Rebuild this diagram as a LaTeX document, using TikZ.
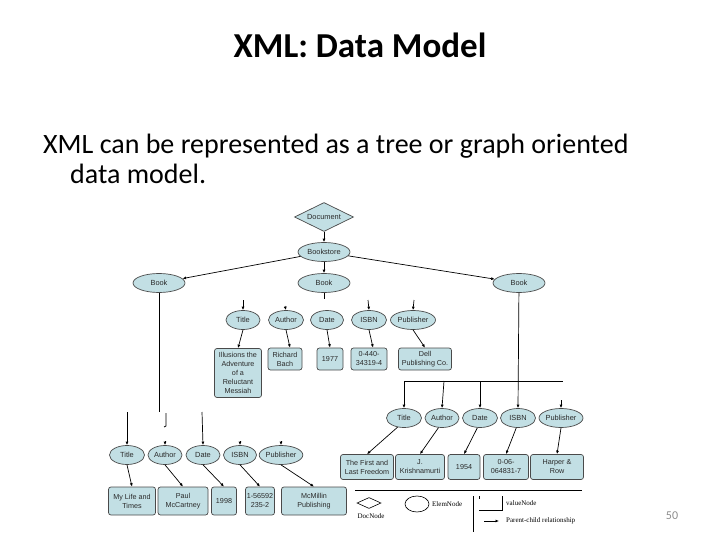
\documentclass[tikz,border=0pt]{standalone}
\usepackage{fontspec}
\setmainfont{Carlito}
\newfontfamily\nodefont{Liberation Sans}
\newfontfamily\legfont{Liberation Serif}
\usetikzlibrary{shapes.geometric,arrows.meta}
\definecolor{nodefill}{HTML}{C2DFE4}
\definecolor{nodeline}{HTML}{4A4A4A}
\definecolor{nodetext}{HTML}{2A2A2A}
\definecolor{pagegray}{HTML}{8C8C8C}
\begin{document}
\begin{tikzpicture}[x=1pt,y=-1pt,
  elem/.style={ellipse, draw=nodeline, fill=nodefill, line width=0.7pt, inner sep=0pt, text=nodetext,
    minimum height=19pt, minimum width=#1, font=\nodefont\fontsize{7.4}{8}\selectfont},
  elem/.default=34pt,
  valbox/.style={rectangle, rounded corners=2.5pt, draw=nodeline, fill=nodefill, line width=0.7pt, text=nodetext,
    inner sep=0pt, align=center, minimum width=#1, font=\nodefont\fontsize{7.2}{9}\selectfont},
  valbox/.default=34pt,
  arr/.style={-{Latex[length=3.5pt,width=3pt]}, line width=0.7pt, black},
  ln/.style={line width=0.8pt, black},
  legtext/.style={font=\legfont\fontsize{7}{8}\selectfont, inner sep=0pt}
]
\useasboundingbox (0,0) rectangle (720,540);

% ---- title and text
\node[anchor=base, inner sep=0pt, font=\bfseries\fontsize{35}{40}\selectfont] (title) at (360,58) {XML: Data Model};
\node[anchor=base west, inner sep=0pt, font=\fontsize{28}{33}\selectfont] (line1) at (43,154) {XML can be represented as a tree or graph oriented};
\node[anchor=base west, inner sep=0pt, font=\fontsize{28}{33}\selectfont] (line2) at (70,184) {data model.};

% ---- top of tree
\node[diamond, aspect=2, draw=nodeline, fill=nodefill, line width=0.7pt, inner sep=0pt, text=nodetext,
  minimum width=59pt, minimum height=29pt, font=\nodefont\fontsize{7.4}{8}\selectfont] (doc) at (324,217) {Document};
\node[elem=52pt] (bs) at (324,252) {Bookstore};
\node[elem=52pt] (bookL) at (159,283) {Book};
\node[elem=52pt] (bookM) at (324,283) {Book};
\node[elem=52pt] (bookR) at (519,283) {Book};

\draw[arr] (doc) -- (bs);
\draw[arr] (bs) -- (bookL);
\draw[arr] (bs) -- (bookM);
\draw[arr] (bs) -- (bookR);

% ---- middle book children
\node[elem=34pt] (t2) at (243,320) {Title};
\node[elem=35pt] (a2) at (286,320) {Author};
\node[elem=33pt] (d2) at (327,320) {Date};
\node[elem=35pt] (i2) at (369,320) {ISBN};
\node[elem=45pt] (p2) at (413,320) {Publisher};

\coordinate (mstub) at (324,299);
\draw[ln] (bookM) -- (mstub);
\coordinate (st2) at (243,300);
\coordinate (sa2) at (285,306);
\coordinate (si2) at (368,300);
\coordinate (sp2) at (414,300);
\draw[arr] (st2) -- (t2.north);
\draw[arr] (sa2) -- (a2.north);
\draw[arr] (si2) -- (i2.north);
\draw[arr] (sp2) -- (p2.north);

\node[valbox=47pt, minimum height=49pt] (v2a) at (238,373) {Illusions the\\Adventure\\of a\\Reluctant\\Messiah};
\node[valbox=34pt, minimum height=22pt] (v2b) at (285,359) {Richard\\Bach};
\node[valbox=26pt, minimum height=22pt] (v2c) at (330,359) {1977};
\node[valbox=36pt, minimum height=22pt] (v2d) at (369,359) {0-440-\\34319-4};
\node[valbox=53pt, minimum height=22pt] (v2e) at (425,359) {Dell\\Publishing Co.};

\draw[arr] (t2.south) -- (v2a.north);
\draw[arr] (a2.south) -- ([xshift=5pt]v2b.north);
\draw[arr] (d2.south) -- (v2c.north);
\draw[arr] (i2.south) -- ([xshift=4pt]v2d.north);
\draw[arr] (p2.south) -- (v2e.north);

% ---- right book children
\node[elem=35pt] (t3) at (404,418) {Title};
\node[elem=34pt] (a3) at (442,418) {Author};
\node[elem=35pt] (d3) at (480,418) {Date};
\node[elem=35pt] (i3) at (518,418) {ISBN};
\node[elem=44pt] (p3) at (561,418) {Publisher};

\coordinate (hL) at (404,381);
\coordinate (hR) at (563,381);
\coordinate (ha) at (444,381);
\coordinate (hd) at (480,381);
\coordinate (sp3) at (561,400);
\draw[ln] (hL) -- (hR);
\draw[arr] (bookR) -- (i3.north);
\draw[arr] (hL) -- (t3.north);
\draw[arr] (ha) -- (a3.north);
\draw[arr] (hd) -- (d3.north);
\draw[arr] (sp3) -- (p3.north);

\node[valbox=53pt, minimum height=25pt] (v3a) at (367,467) {The First and\\Last Freedom};
\node[valbox=49pt, minimum height=25pt] (v3b) at (420,467) {J.\\Krishnamurti};
\node[valbox=32pt, minimum height=25pt] (v3c) at (464,467) {1954};
\node[valbox=45pt, minimum height=25pt] (v3d) at (506,467) {0-06-\\064831-7};
\node[valbox=53pt, minimum height=25pt] (v3e) at (557,467) {Harper \&\\Row};

\draw[arr] (t3.235) -- (v3a.north);
\draw[arr] (a3.250) -- (v3b.north);
\draw[arr] (d3.255) -- (v3c.north);
\draw[arr] (i3.260) -- (v3d.north);
\draw[arr] (p3.south) -- (v3e.north);

% ---- left book children
\node[elem=35pt] (t1) at (127,455) {Title};
\node[elem=34pt] (a1) at (165,455) {Author};
\node[elem=34pt] (d1) at (203,455) {Date};
\node[elem=33pt] (i1) at (240,455) {ISBN};
\node[elem=40pt] (p1) at (281,455) {Publisher};

\coordinate (lend) at (159,412);
\draw[ln] (bookL) -- (lend);
\coordinate (lt) at (127,412);
\coordinate (ld) at (202,412);
\coordinate (la1) at (166,413);
\coordinate (la2) at (166,426);
\coordinate (la3) at (164,427);
\draw[arr] (lt) -- (t1.north);
\draw[arr] (ld) -- (d1.north);
\draw[ln] (la1) -- (la2) -- (la3);
\coordinate (sa1) at (165,441);
\coordinate (si1) at (240,441);
\coordinate (sp1) at (281,441);
\draw[arr] (sa1) -- (a1.north);
\draw[arr] (si1) -- (i1.north);
\draw[arr] (sp1) -- (p1.north);

\node[valbox=47pt, minimum height=28pt] (v1a) at (132,501) {My Life and\\Times};
\node[valbox=50pt, minimum height=28pt] (v1b) at (183,501) {Paul\\McCartney};
\node[valbox=25pt, minimum height=28pt] (v1c) at (224,501) {1998};
\node[valbox=29pt, minimum height=28pt] (v1d) at (260,501) {1-56592\\235-2};
\node[valbox=65pt, minimum height=28pt] (v1e) at (314,501) {McMillin\\Publishing};

\draw[arr] (t1.south) -- (v1a.north);
\draw[arr] (a1.south) -- (v1b.north);
\draw[arr] (d1.south) -- (v1c.north);
\draw[arr] (i1.south) -- (v1d.north);
\draw[arr] (p1.south) -- (v1e.north);

% ---- legend
\coordinate (lg1) at (355,490);
\coordinate (lg2) at (582,490);
\draw[ln] (lg1) -- (lg2);
\node[diamond, aspect=2.2, draw, line width=0.6pt, inner sep=0pt, minimum width=24pt, minimum height=11pt] (kdoc) at (369,503) {};
\node[legtext, anchor=north] (kdoclab) at (371,513) {DocNode};
\node[ellipse, draw, line width=0.6pt, inner sep=0pt, minimum width=24pt, minimum height=16pt] (kelem) at (417,504) {};
\node[legtext, anchor=west] (kelemlab) at (432,504) {ElemNode};
\coordinate (sep1) at (473,496);
\coordinate (sep2) at (473,532);
\draw[ln] (sep1) -- (sep2);
\coordinate (kv1) at (479,496);
\coordinate (kv2) at (479,499);
\coordinate (kv3) at (479,510);
\coordinate (kv4) at (502,510);
\coordinate (kv5) at (502,496);
\draw[line width=0.6pt] (kv1) -- (kv2);
\draw[line width=0.6pt] (kv3) -- (kv4) -- (kv5);
\node[legtext, anchor=west] (kvlab) at (506,503) {valueNode};
\coordinate (ka1) at (484,521);
\coordinate (ka2) at (499,521);
\draw[arr] (ka1) -- (ka2);
\node[legtext, anchor=west] (kalab) at (506,521) {Parent-child relationship};

% ---- page number
\node[anchor=base, inner sep=0pt, text=pagegray, font=\fontsize{12}{14}\selectfont] (pnum) at (672,519) {50};
\end{tikzpicture}
\end{document}
